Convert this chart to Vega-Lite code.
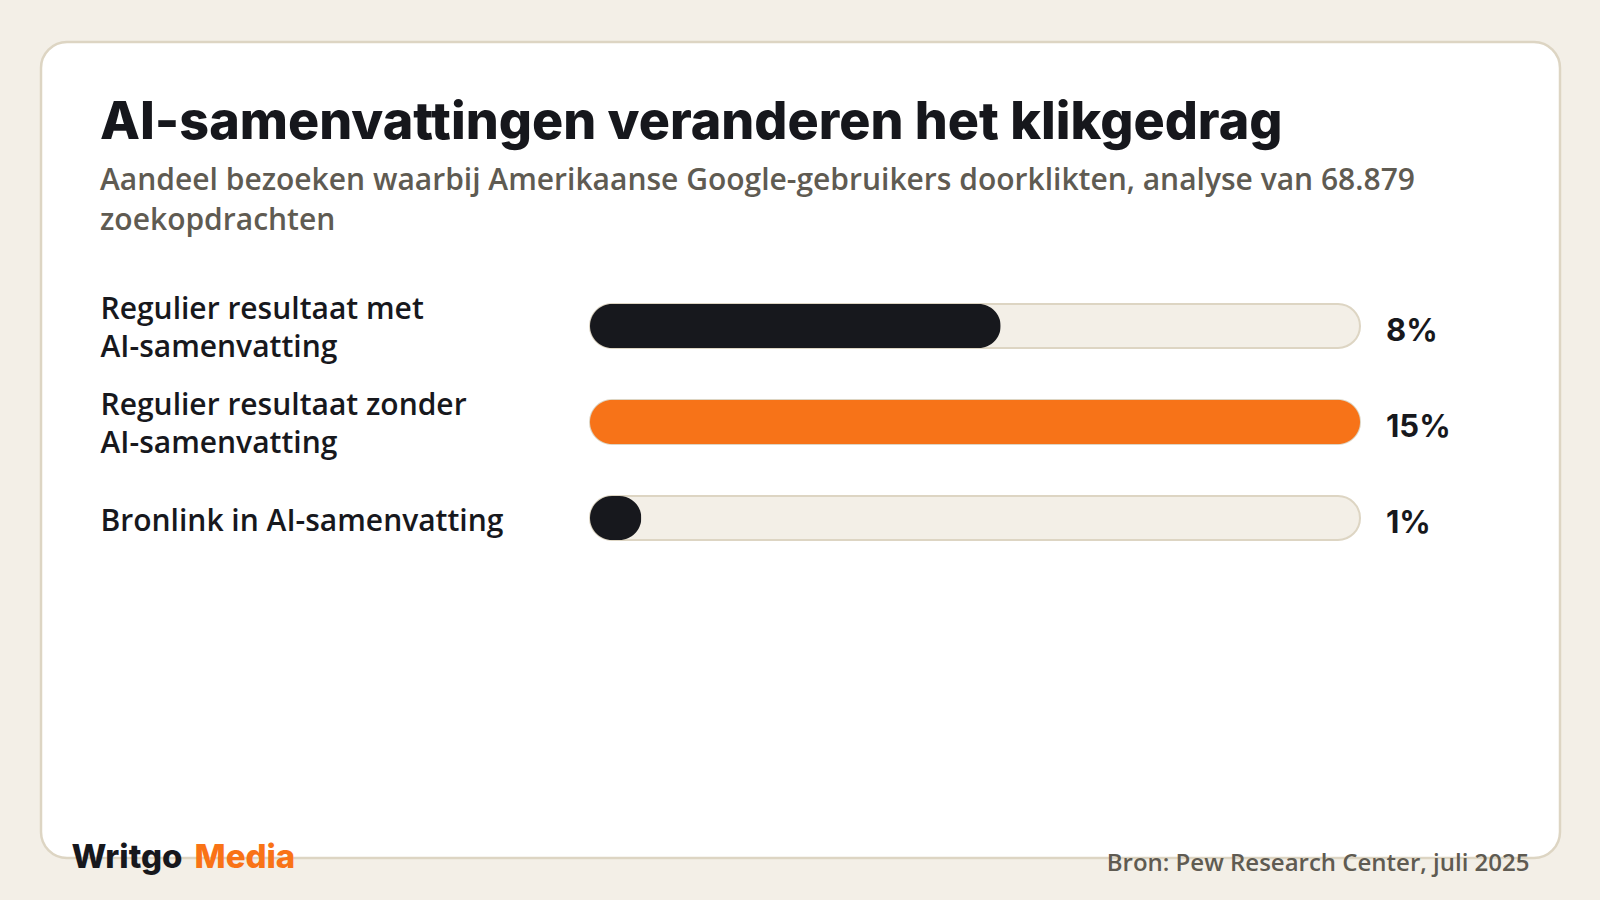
{
  "$schema": "https://vega.github.io/schema/vega-lite/v6.json",
  "width": 1519,
  "height": 816,
  "autosize": {"type": "none"},
  "padding": {"left": 41, "top": 42, "right": 40, "bottom": 42},
  "background": "#f3efe7",
  "config": {
    "view": {"fill": "#ffffff", "stroke": "#ddd5c3", "strokeWidth": 2.5, "cornerRadius": 26},
    "axis": {"grid": false, "domain": false, "ticks": false, "tickSize": 0}
  },
  "title": {
    "text": "AI-samenvattingen veranderen het klikgedrag",
    "subtitle": ["Aandeel bezoeken waarbij Amerikaanse Google-gebruikers doorklikten, analyse van 68.879", "zoekopdrachten"],
    "anchor": "start",
    "frame": "group",
    "orient": "top",
    "offset": -195,
    "dx": 59,
    "font": "Inter",
    "fontSize": 52,
    "fontWeight": 800,
    "color": "#16171c",
    "subtitleFont": "Open Sans",
    "subtitleFontSize": 30,
    "subtitleFontWeight": 600,
    "subtitleColor": "#5f5b52",
    "subtitlePadding": 16,
    "subtitleLineHeight": 40
  },
  "data": {
    "values": [
      {"label": "Regulier resultaat met|AI-samenvatting", "value": 0.08, "soort": "overig"},
      {"label": "Regulier resultaat zonder|AI-samenvatting", "value": 0.15, "soort": "zonder AI"},
      {"label": "Bronlink in AI-samenvatting", "value": 0.01, "soort": "overig"}
    ]
  },
  "encoding": {
    "y": {
      "field": "label",
      "type": "nominal",
      "sort": null,
      "scale": {"type": "band", "range": [236, 524], "paddingInner": 0, "paddingOuter": 0},
      "axis": {
        "orient": "left",
        "offset": -59,
        "labelAlign": "left",
        "labelBaseline": "middle",
        "labelPadding": 0,
        "labelExpr": "split(datum.label, '|')",
        "labelOffset": {"condition": {"test": "indexof(datum.label, '|') >= 0", "value": -16}, "value": 4},
        "labelLineHeight": 38,
        "labelFont": "Open Sans",
        "labelFontSize": 30,
        "labelFontWeight": 600,
        "labelColor": "#17181d",
        "labelLimit": 600,
        "title": "Writgo",
        "titleAngle": 0,
        "titleX": -29,
        "titleY": 825,
        "titleAlign": "left",
        "titleBaseline": "alphabetic",
        "titleFont": "Inter",
        "titleFontSize": 33,
        "titleFontWeight": 800,
        "titleColor": "#17181d"
      }
    }
  },
  "layer": [
    {
      "mark": {"type": "bar", "height": 44, "cornerRadius": 22, "fill": "#f3efe7", "stroke": "#ddd5c3", "strokeWidth": 2},
      "encoding": {
        "x": {
          "datum": 0.15,
          "type": "quantitative",
          "scale": {"domain": [0, 0.15], "range": [549, 1319], "nice": false, "zero": true},
          "axis": {
            "orient": "bottom",
            "labels": false,
            "title": "Bron: Pew Research Center, juli 2025",
            "titleX": 1488,
            "titleY": 12,
            "titleAlign": "right",
            "titleAnchor": null,
            "titleBaseline": "alphabetic",
            "titleFont": "Open Sans",
            "titleFontSize": 24,
            "titleFontWeight": 600,
            "titleColor": "#5f5b52"
          }
        }
      }
    },
    {
      "mark": {"type": "bar", "height": 44, "cornerRadius": 22},
      "encoding": {
        "x": {
          "field": "value",
          "type": "quantitative",
          "axis": {
            "orient": "top",
            "labels": false,
            "title": "Media",
            "titleX": 153,
            "titleY": 825,
            "titleAlign": "left",
            "titleBaseline": "alphabetic",
            "titleFont": "Inter",
            "titleFontSize": 33,
            "titleFontWeight": 800,
            "titleColor": "#f97316"
          }
        },
        "color": {
          "field": "soort",
          "type": "nominal",
          "scale": {"domain": ["overig", "zonder AI"], "range": ["#17181d", "#f77318"]},
          "legend": null
        }
      }
    },
    {
      "mark": {"type": "text", "align": "left", "baseline": "middle", "dx": 26, "dy": 6, "font": "Inter", "fontSize": 31, "fontWeight": 700, "color": "#17181d"},
      "encoding": {
        "x": {"datum": 0.15, "type": "quantitative", "axis": null},
        "text": {"field": "value", "type": "quantitative", "format": ".0%"}
      }
    }
  ],
  "resolve": {"axis": {"x": "independent"}}
}
